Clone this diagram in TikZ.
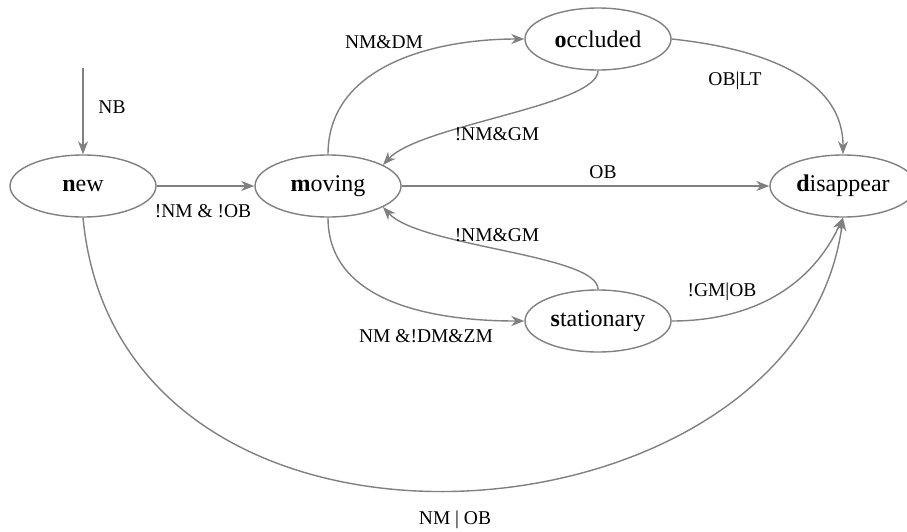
\documentclass[tikz,border=0pt]{standalone}
\usepackage{fontspec}
\setmainfont{Liberation Serif}
\usetikzlibrary{shapes.geometric,arrows.meta}
\definecolor{edgegray}{RGB}{128,128,128}
\tikzset{
  state/.style={ellipse, draw=edgegray, line width=1.4pt, minimum width=146pt, minimum height=62pt, inner sep=0pt, font=\fontsize{24}{28}\selectfont, text=black},
  conn/.style={draw=edgegray, line width=1.4pt, -{Stealth[length=13pt,width=10pt,inset=4pt]}},
  lbl/.style={font=\fontsize{19.5}{23}\selectfont, text=black, inner sep=0pt}
}
\begin{document}
\begin{tikzpicture}[x=1pt,y=1pt]
\useasboundingbox (0,0) rectangle (907,-531);
\node[state] (new) at (83,-186) {\textbf{n}ew};
\node[state] (moving) at (328,-186) {\textbf{m}oving};
\node[state] (occluded) at (598,-39) {\textbf{o}ccluded};
\node[state] (disappear) at (843,-186) {\textbf{d}isappear};
\node[state] (stationary) at (598,-321) {\textbf{s}tationary};
\coordinate (start) at (83,-68);

\draw[conn] (start) -- (new.north);
\node[lbl] at (112,-107) {NB};

\draw[conn] (new.east) -- (moving.west);
\node[lbl] at (203,-211) {!NM \& !OB};

\draw[conn] (moving.north) to[out=90,in=180] (occluded.west);
\node[lbl] at (384,-42) {NM\&DM};

\draw[conn] (occluded.south) .. controls +(0,-35) and +(37,40) .. (moving.21);
\node[lbl] at (497,-134) {!NM\&GM};

\draw[conn] (occluded.east) to[out=-6,in=90] (disappear.north);
\node[lbl] at (735,-81) {OB|LT};

\draw[conn] (moving.east) -- (disappear.west);
\node[lbl] at (603,-172) {OB};

\draw[conn] (moving.south) to[out=-90,in=180] (stationary.west);
\node[lbl] at (426,-336) {NM \&!DM\&ZM};

\draw[conn] (stationary.north) .. controls +(0,35) and +(37,-40) .. (moving.-21);
\node[lbl] at (497,-235) {!NM\&GM};

\draw[conn] (stationary.east) to[out=0,in=-115] (disappear.south);
\node[lbl] at (722,-292) {!GM|OB};

\draw[conn] (new.south) .. controls (120,-610) and (798,-552) .. (disappear.south);
\node[lbl] at (455,-520) {NM | OB};
\end{tikzpicture}
\end{document}
